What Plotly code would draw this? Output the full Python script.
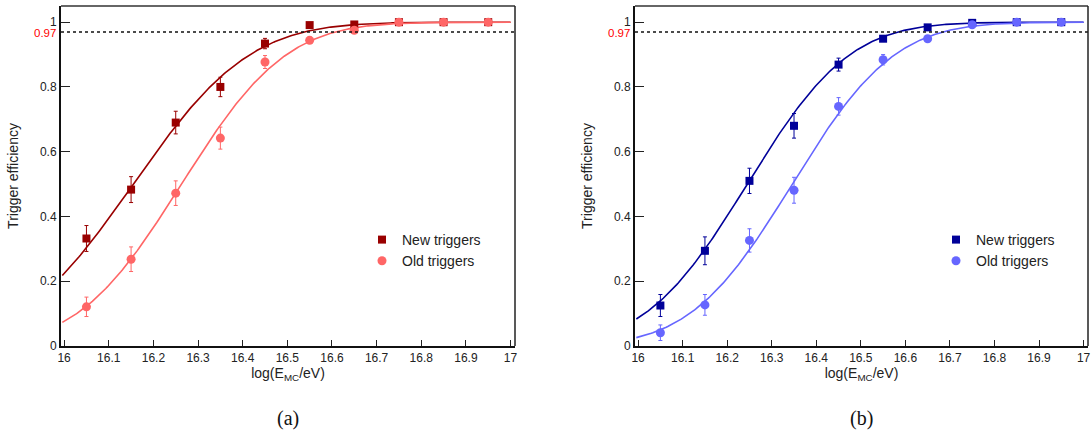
import math
import numpy as np
import plotly.graph_objects as go

# ---------------- data ----------------
x_bins = [16.05, 16.15, 16.25, 16.35, 16.45, 16.55, 16.65, 16.75, 16.85, 16.95]

a_new = [0.332, 0.483, 0.690, 0.800, 0.934, 0.991, 0.993, 1.000, 1.000, 1.000]
a_new_err = [0.040, 0.040, 0.035, 0.030, 0.016, 0.006, 0.004, 0.002, 0.001, 0.001]
a_old = [0.121, 0.268, 0.472, 0.642, 0.877, 0.944, 0.975, 1.000, 1.000, 1.000]
a_old_err = [0.030, 0.038, 0.038, 0.034, 0.020, 0.010, 0.006, 0.002, 0.001, 0.001]

b_new = [0.125, 0.294, 0.510, 0.680, 0.869, 0.949, 0.984, 0.998, 1.000, 1.000]
b_new_err = [0.034, 0.043, 0.039, 0.038, 0.020, 0.008, 0.005, 0.002, 0.001, 0.001]
b_old = [0.041, 0.127, 0.326, 0.481, 0.740, 0.884, 0.949, 0.992, 1.000, 1.000]
b_old_err = [0.024, 0.032, 0.036, 0.040, 0.027, 0.016, 0.008, 0.004, 0.002, 0.001]

# error-function fit parameters (mu, sigma)
fit_a_new = (16.155, 0.204)
fit_a_old = (16.263, 0.1835)
fit_b_new = (16.245, 0.180)
fit_b_old = (16.346, 0.180)

x_ticks = [16.0, 16.1, 16.2, 16.3, 16.4, 16.5, 16.6, 16.7, 16.8, 16.9, 17.0]
x_tick_text = ["16", "16.1", "16.2", "16.3", "16.4", "16.5", "16.6", "16.7", "16.8", "16.9", "17"]
y_ticks = [0, 0.2, 0.4, 0.6, 0.8, 1.0]
y_tick_text = ["0", "0.2", "0.4", "0.6", "0.8", "1"]
threshold = 0.97
labels = ["New triggers", "Old triggers"]

DARK_RED, LIGHT_RED = "#990000", "#ff6666"
DARK_BLUE, LIGHT_BLUE = "#000099", "#6666ff"
FONT = "Liberation Sans, Arial, Helvetica, sans-serif"
TXT = "#222222"


def erf_curve(params, xs):
    mu, sig = params
    return [0.5 * (1.0 + math.erf((x - mu) / (math.sqrt(2.0) * sig))) for x in xs]


x_fit = list(np.linspace(15.996, 17.0, 300))

fig = go.Figure()


def add_panel(xa, ya, legend, y_new, e_new, y_old, e_old, p_new, p_old, c_new, c_old):
    fig.add_trace(go.Scatter(x=x_fit, y=erf_curve(p_new, x_fit), mode="lines",
                             line=dict(color=c_new, width=1.6), showlegend=False,
                             xaxis=xa, yaxis=ya, hoverinfo="skip"))
    fig.add_trace(go.Scatter(x=x_fit, y=erf_curve(p_old, x_fit), mode="lines",
                             line=dict(color=c_old, width=1.6), showlegend=False,
                             xaxis=xa, yaxis=ya, hoverinfo="skip"))
    fig.add_trace(go.Scatter(x=x_bins, y=y_new, mode="markers", name=labels[0],
                             marker=dict(symbol="square", size=8, color=c_new),
                             error_y=dict(type="data", array=e_new, color=c_new,
                                          thickness=1, width=2),
                             xaxis=xa, yaxis=ya, legend=legend))
    fig.add_trace(go.Scatter(x=x_bins, y=y_old, mode="markers", name=labels[1],
                             marker=dict(symbol="circle", size=9, color=c_old),
                             error_y=dict(type="data", array=e_old, color=c_old,
                                          thickness=1, width=2),
                             xaxis=xa, yaxis=ya, legend=legend))


add_panel("x", "y", "legend", a_new, a_new_err, a_old, a_old_err,
          fit_a_new, fit_a_old, DARK_RED, LIGHT_RED)
add_panel("x2", "y2", "legend2", b_new, b_new_err, b_old, b_old_err,
          fit_b_new, fit_b_old, DARK_BLUE, LIGHT_BLUE)

W, H = 1091, 434
ydom = [88 / H, 428 / H]

xaxis_common = dict(range=[15.993, 17.01], tickvals=x_ticks, ticktext=x_tick_text,
                    ticks="inside", ticklen=6, tickwidth=1, tickcolor="#222",
                    showline=True, linecolor="#111", linewidth=2, mirror=False,
                    showgrid=False, zeroline=False, automargin=False,
                    tickfont=dict(family=FONT, size=12, color=TXT),
                    title=dict(text="log(E<sub>MC</sub>/eV)",
                               font=dict(family=FONT, size=14, color=TXT), standoff=4))
yaxis_common = dict(range=[0, 1.05], tickvals=y_ticks, ticktext=y_tick_text,
                    ticks="inside", ticklen=9, tickwidth=1, tickcolor="#222",
                    showline=True, linecolor="#111", linewidth=2, mirror=False,
                    showgrid=False, zeroline=False, automargin=False,
                    tickfont=dict(family=FONT, size=12, color=TXT),
                    title=dict(text="Trigger efficiency",
                               font=dict(family=FONT, size=14, color=TXT), standoff=18))

fig.update_layout(
    width=W, height=H, margin=dict(l=0, r=0, t=0, b=0),
    paper_bgcolor="white", plot_bgcolor="white",
    xaxis=dict(domain=[61 / W, 515 / W], anchor="y", **xaxis_common),
    yaxis=dict(domain=ydom, anchor="x", **yaxis_common),
    xaxis2=dict(domain=[635 / W, 1088 / W], anchor="y2", **xaxis_common),
    yaxis2=dict(domain=ydom, anchor="x2", **yaxis_common),
    legend=dict(x=362 / W, y=(H - 224) / H, xanchor="left", yanchor="top",
                bgcolor="rgba(0,0,0,0)", font=dict(family=FONT, size=14, color=TXT),
                itemwidth=30, tracegroupgap=0),
    legend2=dict(x=936 / W, y=(H - 224) / H, xanchor="left", yanchor="top",
                 bgcolor="rgba(0,0,0,0)", font=dict(family=FONT, size=14, color=TXT),
                 itemwidth=30, tracegroupgap=0),
    showlegend=True,
)

shapes = []
annotations = []
for xa, ya, cx in [("x", "y", 288), ("x2", "y2", 861)]:
    xd = xa + " domain"
    yd = ya + " domain"
    # threshold dashed line
    shapes.append(dict(type="line", xref=xd, yref=ya, x0=0, x1=1, y0=threshold, y1=threshold,
                       line=dict(color="#111", width=1.5, dash="3px,3px")))
    # top and right frame
    shapes.append(dict(type="line", xref=xd, yref=yd, x0=0, x1=1, y0=1, y1=1,
                       line=dict(color="#666", width=2)))
    shapes.append(dict(type="line", xref=xd, yref=yd, x0=1, x1=1, y0=0, y1=1,
                       line=dict(color="#222", width=1.5)))
    annotations.append(dict(xref=xd, yref=ya, x=0, y=threshold, text=str(threshold),
                            showarrow=False, xanchor="right", yanchor="middle", xshift=-3,
                            yshift=-1,
                            font=dict(family=FONT, size=11.5, color="#ff0000")))
    annotations.append(dict(xref="paper", yref="paper", x=cx / W, y=(H - 418) / H,
                            text="(" + ("a" if xa == "x" else "b") + ")", showarrow=False,
                            xanchor="center", yanchor="middle",
                            font=dict(family="Liberation Serif, DejaVu Serif, serif",
                                      size=20, color="#111")))

fig.update_layout(shapes=shapes, annotations=annotations)
fig.write_html("out.html", config={"displayModeBar": False},
               post_script="document.body.style.margin='0';document.body.style.padding='0';")
